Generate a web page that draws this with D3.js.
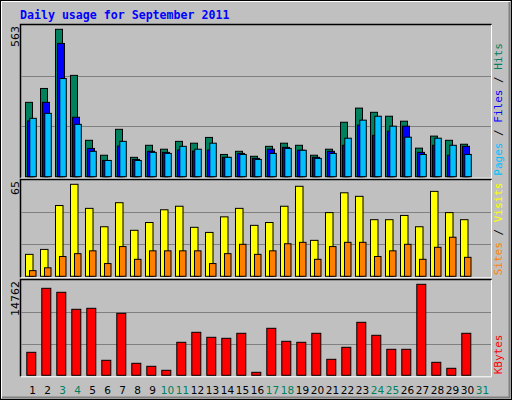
<!DOCTYPE html>
<html><head><meta charset="utf-8">
<script src="https://cdn.jsdelivr.net/npm/d3@7"></script>
<style>body{margin:0;background:#fff}</style>
</head><body>
<script>
const days = d3.range(1, 32);
const weekendDays = [3,4,10,11,17,18,24,25,31];
const hits  = [284,337,563,387,139,82,181,74,120,105,135,128,150,85,97,78,116,128,120,82,105,208,262,246,231,212,109,155,139,124,0];
const files = [213,284,509,227,108,62,117,66,97,93,102,98,102,74,89,70,105,112,101,74,97,120,197,158,174,193,93,120,82,116,0];
const pages = [223,242,375,200,97,62,135,62,93,89,116,105,128,74,85,66,89,108,101,70,89,147,216,231,193,151,85,147,120,85,0];
const visits = [15.5,19,50,65,48,35,52,32.5,38,47,49.5,34.6,31,42,48,36,38,49.5,63.6,25.4,45,59,56.5,40,40,43,35,60,45,40,0];
const sites  = [4,6,14,16,18,9,21,12,18,18,18,18,9,16,22.6,15.5,18,23,24,12,21,24,24,14,18,22.6,12,20.5,27.6,13.4,0];
const kbytes = [3731,14113,13464,10707,10869,2433,10058,1947,1460,811,5353,6975,6164,6002,6813,487,7624,5515,5353,6813,2595,4542,8598,6489,4218,4218,14762,2109,1136,6813,0];
const maxLabels = ["563","65","14762"];

const W=512,H=400;
const svg=d3.select("body").append("svg").attr("width",W).attr("height",H);
svg.append("rect").attr("width",W).attr("height",H).attr("fill","#C0C0C0");
// outer bevel
svg.append("rect").attr("x",0.5).attr("y",0.5).attr("width",W-1).attr("height",H-1).attr("fill","none").attr("stroke","#000");
svg.append("path").attr("d",`M1.5,${H-2} V1.5 H${W-2}`).attr("stroke","#fff").attr("fill","none");
svg.append("path").attr("d",`M2,${H-2.5} H${W-2.5} V2`).attr("stroke","#808080").attr("fill","none").attr("stroke-width",2);

svg.append("text").attr("x",20).attr("y",19).text("Daily usage for September 2011")
  .attr("font-family","DejaVu Sans Mono").attr("font-weight","bold").attr("font-size",11.6).attr("fill","#0000FF");

const x = d3.scaleLinear().domain([1,2]).range([25,40]);

const panels = [
  {top:25, base:176.7, max:563/147.4*151.7, series:[[hits,"#00805C",0,8],[files,"#0000FF",2,8],[pages,"#00C0FF",4.3,7.5]],
   lbl:[["Pages","#00C0FF"],[" / ","#000"],["Files","#0000FF"],[" / ","#000"],["Hits","#00805C"]]},
  {top:180, base:276.3, max:65/92*96.3, series:[[visits,"#FFFF00",0,8.5],[sites,"#FF8000",4,7.5]],
   lbl:[["Sites","#FF8000"],[" / ","#000"],["Visits","#FFFF00"]]},
  {top:280, base:375.3, max:14762/91*95.3, series:[[kbytes,"#FF0000",1.3,10]],
   lbl:[["KBytes","#FF0000"]]}
];
panels.forEach((p,pi)=>{
  const y=d3.scaleLinear().domain([0,p.max]).range([p.base,p.top]);
  const h=p.base-p.top;
  // frame
  svg.append("path").attr("d",`M20.5,${p.base+1} V${p.top-0.5} H491.5`).attr("stroke","#000").attr("fill","none").attr("stroke-width",1.5);
  svg.append("path").attr("d",`M21,${p.base+1.5} H491.5 V${p.top}`).attr("stroke","#fff").attr("fill","none");
  [1,2].forEach(k=>svg.append("line").attr("x1",21).attr("x2",491).attr("y1",Math.round(p.base-h*k/3)+0.5).attr("y2",Math.round(p.base-h*k/3)+0.5).attr("stroke","#808080").attr("stroke-width",1));
  p.series.forEach(([vals,col,off,w])=>{
    svg.append("g").selectAll("rect").data(vals.map((v,i)=>({v,d:i+1})).filter(o=>o.v>0)).join("rect")
      .attr("x",o=>x(o.d)+off+0.5).attr("width",w-1)
      .attr("y",o=>y(o.v)).attr("height",o=>p.base-y(o.v))
      .attr("fill",col).attr("stroke","#000").attr("stroke-width",1);
  });
  svg.append("text").attr("transform",`translate(19,${p.top+1}) rotate(-90)`).attr("text-anchor","end")
    .attr("font-family","DejaVu Sans").attr("font-size",11).text(maxLabels[pi]);
  const t=svg.append("text").attr("transform",`translate(502,${p.base-1}) rotate(-90)`)
    .attr("font-family","DejaVu Sans Mono").attr("font-size",11).attr("xml:space","preserve").style("white-space","pre");
  p.lbl.forEach(([s,c])=>t.append("tspan").attr("fill",c).text(s));
});
svg.append("g").selectAll("text").data(days).join("text")
  .attr("x",d=>x(d)+7.5).attr("y",394).attr("text-anchor","middle")
  .attr("font-family","DejaVu Sans").attr("font-size",10.5)
  .attr("fill",d=>weekendDays.includes(d)?"#00805C":"#000").text(d=>d);
</script>
</body></html>
